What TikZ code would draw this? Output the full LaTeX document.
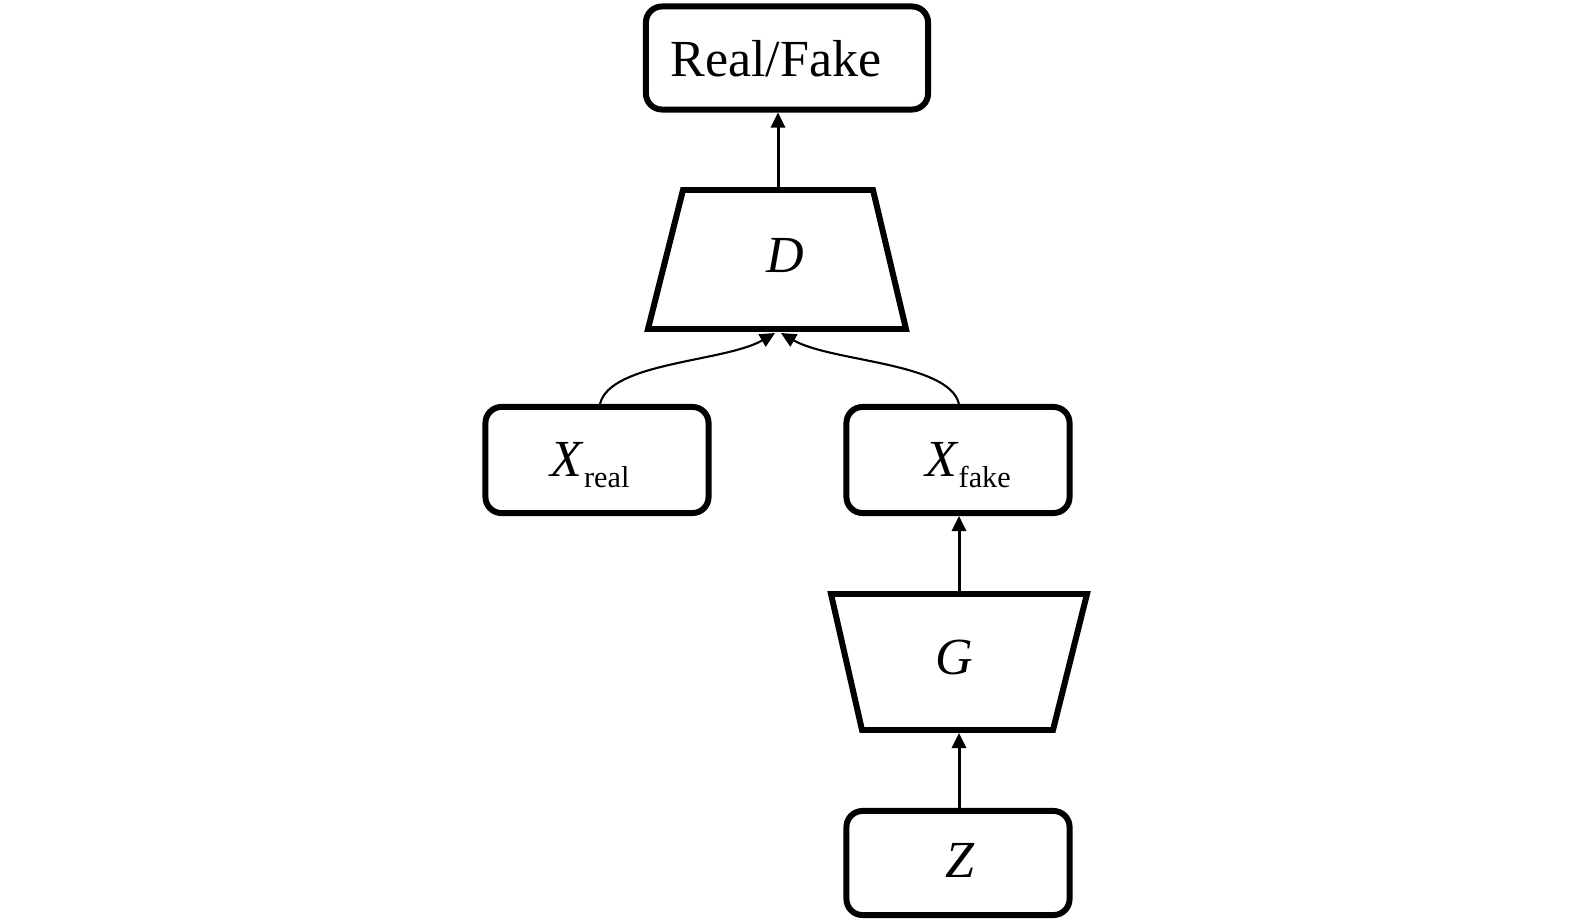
\documentclass[tikz,border=0pt]{standalone}
\usepackage{fontspec}
\setmainfont{Liberation Serif}
\usetikzlibrary{arrows.meta}
\begin{document}
\begin{tikzpicture}[x=0.01cm,y=-0.01cm,
  box/.style={draw, line width=1.7pt, rounded corners=0.16cm, inner sep=0pt, font=\fontsize{14.8}{17}\selectfont},
  trapline/.style={draw, line width=1.7pt, line join=miter},
  lbl/.style={inner sep=0pt, font=\fontsize{14.8}{17}\selectfont},
  arr/.style={line width=0.85pt, -{Triangle[length=0.15cm,width=0.14cm]}},
  carr/.style={line width=0.6pt, -{Triangle[length=0.15cm,width=0.14cm]}}]
\newcommand{\subtxt}[1]{\raisebox{-0.11cm}{\fontsize{8.6}{10}\selectfont #1}}
\useasboundingbox (0,0) rectangle (1575,921);
% boxes
\node[box, minimum width=2.82cm, minimum height=1.03cm] (rf) at (787,58) {};
\node[box, minimum width=2.23cm, minimum height=1.06cm] (xr) at (597,460) {};
\node[box, minimum width=2.23cm, minimum height=1.06cm] (xf) at (958,460) {};
\node[box, minimum width=2.23cm, minimum height=1.04cm] (Z) at (958,863) {};
% trapezium D
\coordinate (Dtl) at (683,190);
\coordinate (Dtr) at (873,190);
\coordinate (Dbr) at (906,329);
\coordinate (Dbl) at (648,329);
\draw[trapline] (Dtl) -- (Dtr) -- (Dbr) -- (Dbl) -- cycle;
\coordinate (Dtop) at (778,188);
\coordinate (Dbot) at (778,333);
% trapezium G
\coordinate (Gtl) at (831,594);
\coordinate (Gtr) at (1087,594);
\coordinate (Gbr) at (1053,730);
\coordinate (Gbl) at (862,730);
\draw[trapline] (Gtl) -- (Gtr) -- (Gbr) -- (Gbl) -- cycle;
\coordinate (Gtop) at (959,592);
\coordinate (Gbot) at (959,733);
% labels
\node[lbl, anchor=base] (rfl) at (776,77) {Real/Fake};
\node[lbl] (D) at (785,256) {\textit{D}};
\node[lbl] (G) at (954,657) {\textit{G}};
\node[lbl] (Zl) at (960,860) {\textit{Z}};
\node[lbl, anchor=base] (xrl) at (590,476) {\textit{X}\subtxt{real}};
\node[lbl, anchor=base] (xfl) at (968,476) {\textit{X}\subtxt{fake}};
% connectors
\draw[arr] (Dtop) -- (Dtop |- rf.south);
\draw[arr] (Gtop) -- (Gtop |- xf.south);
\draw[arr] (Z.north -| Gbot) -- (Gbot);
\draw[carr] ([xshift=0.03cm]xr.north) .. controls ++(10,-42) and (725,362) .. ([xshift=-0.03cm]Dbot);
\draw[carr] ([xshift=0.01cm]xf.north) .. controls ++(-10,-42) and (831,362) .. ([xshift=0.03cm]Dbot);
\end{tikzpicture}
\end{document}
